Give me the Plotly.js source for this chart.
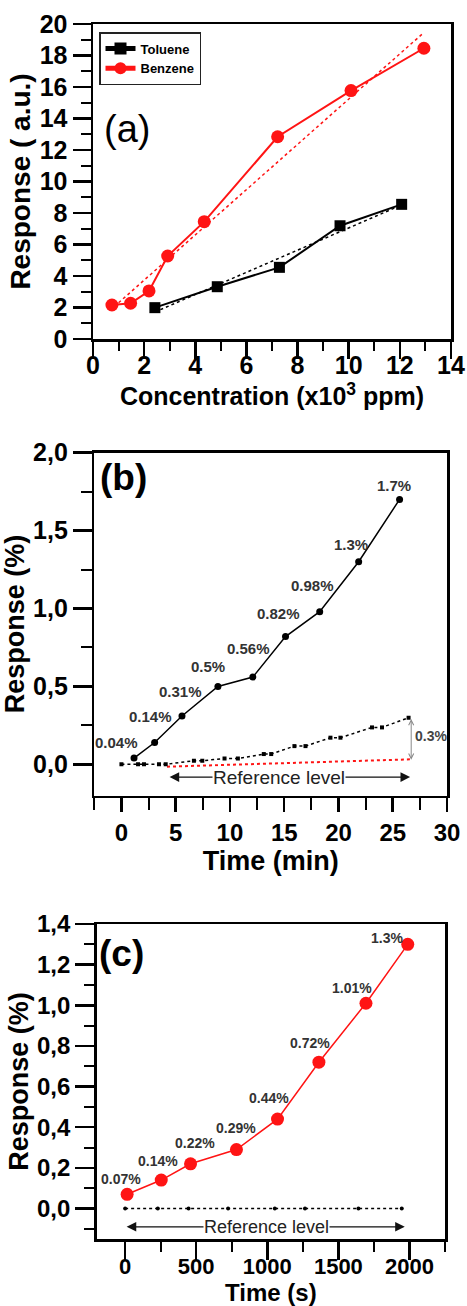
<!DOCTYPE html>
<html>
<head>
<meta charset="utf-8">
<script src="https://cdn.plot.ly/plotly-3.0.1.min.js"></script>
<style>
html,body{margin:0;padding:0;background:#fff;}
#chart{width:467px;height:1306px;}
</style>
</head>
<body>
<div id="chart"></div>
<script>
// ---------- Panel (a) data ----------
const tolueneConc = [2.42, 4.86, 7.29, 9.66, 12.07];
const tolueneResp = [1.99, 3.32, 4.55, 7.19, 8.55];
const benzeneConc = [0.74, 1.47, 2.19, 2.92, 4.35, 7.22, 10.09, 12.94];
const benzeneResp = [2.16, 2.27, 3.05, 5.27, 7.45, 12.84, 15.77, 18.46];
const tolueneFitConc = [2.42, 12.07];
const tolueneFitResp = [1.71, 8.51];
const benzeneFitConc = [1.0, 12.9];
const benzeneFitResp = [2.3, 19.4];

// ---------- Panel (b) data ----------
const bTime = [1.16, 3.06, 5.58, 8.89, 12.11, 15.12, 18.27, 21.86, 25.63];
const bResp = [0.04, 0.14, 0.31, 0.50, 0.56, 0.82, 0.98, 1.30, 1.70];
const bLabels = ['0.04%', '0.14%', '0.31%', '0.5%', '0.56%', '0.82%', '0.98%', '1.3%', '1.7%'];
const bDriftTime = [0, 1.53, 2.08, 3.46, 4.08, 6.68, 7.45, 9.5, 10.73, 13.12, 13.8, 15.94, 16.96, 19.26, 20.18, 23.09, 24.01, 26.46];
const bDriftResp = [0, 0, 0, 0, 0, 0.023, 0.023, 0.038, 0.038, 0.066, 0.066, 0.117, 0.117, 0.171, 0.171, 0.237, 0.237, 0.299];
const bBaseTime = [4.2, 26.6];
const bBaseResp = [-0.015, 0.032];
const bRefStart = 4.3, bRefEnd = 26.6, bRefLevel = -0.082;
const bDriftMark = {x: 26.7, low: 0.03, high: 0.3, text: '0.3%'};

// ---------- Panel (c) data ----------
const cTime = [14, 254, 460, 783, 1072, 1363, 1694, 1988];
const cResp = [0.07, 0.14, 0.22, 0.29, 0.44, 0.72, 1.01, 1.30];
const cLabels = ['0.07%', '0.14%', '0.22%', '0.29%', '0.44%', '0.72%', '1.01%', '1.3%'];
const cRefTime = [0, 230, 446, 724, 1053, 1265, 1641, 1946];
const cRefResp = [0, 0, 0, 0, 0, 0, 0, 0];
const cRefStart = 0, cRefEnd = 1967, cRefLevel = -0.09;

// ---------- styles ----------
const FONT = 'Liberation Sans, Arial, sans-serif';
const W = 467, H = 1306;
const px2x = (a, b) => [a / W, b / W];
const px2y = (top, bot) => [1 - bot / H, 1 - top / H];
const RED = '#ff1414';

// label offsets (pixels) - styling only
const bDX = [-18, -4, -1, -10, -4, -7, -7, -8, -6];
const bDY = [16, 26, 25, 20, 29, 23, 26, 17, 14];
const cDX = [-6, -3, 4, 0, -9, -9, -14, -21];
const cDY = [15, 19, 21, 22, 21, 19, 15, 6];

function axisBase(extra) {
  return Object.assign({
    showline: true, linecolor: '#000', linewidth: 2.5, mirror: true,
    ticks: 'outside', tickcolor: '#000', tickwidth: 2.5,
    showgrid: false, zeroline: false,
    tickfont: {family: FONT, size: 25, color: '#000', weight: 'bold'},
  }, extra);
}

const traces = [
  // (a)
  {x: tolueneFitConc, y: tolueneFitResp, xaxis: 'x', yaxis: 'y', mode: 'lines',
   line: {color: '#000', width: 1.5, dash: 'dot'}, showlegend: false, hoverinfo: 'skip'},
  {x: benzeneFitConc, y: benzeneFitResp, xaxis: 'x', yaxis: 'y', mode: 'lines',
   line: {color: RED, width: 1.5, dash: 'dot'}, showlegend: false, hoverinfo: 'skip'},
  {x: tolueneConc, y: tolueneResp, xaxis: 'x', yaxis: 'y', mode: 'lines+markers', name: 'Toluene',
   line: {color: '#000', width: 2}, marker: {symbol: 'square', size: 11, color: '#000'}},
  {x: benzeneConc, y: benzeneResp, xaxis: 'x', yaxis: 'y', mode: 'lines+markers', name: 'Benzene',
   line: {color: RED, width: 2}, marker: {symbol: 'circle', size: 13, color: RED}},
  // (b)
  {x: bBaseTime, y: bBaseResp, xaxis: 'x2', yaxis: 'y2', mode: 'lines',
   line: {color: RED, width: 2, dash: 'dot'}, showlegend: false},
  {x: bDriftTime, y: bDriftResp, xaxis: 'x2', yaxis: 'y2', mode: 'lines+markers',
   line: {color: '#000', width: 1.5, dash: 'dot'}, marker: {symbol: 'square', size: 4, color: '#000'}, showlegend: false},
  {x: bTime, y: bResp, xaxis: 'x2', yaxis: 'y2', mode: 'lines+markers',
   line: {color: '#000', width: 1.5}, marker: {symbol: 'circle', size: 7, color: '#000'}, showlegend: false},
  // (c)
  {x: cRefTime, y: cRefResp, xaxis: 'x3', yaxis: 'y3', mode: 'lines+markers',
   line: {color: '#000', width: 1.5, dash: 'dot'}, marker: {symbol: 'circle', size: 4, color: '#000'}, showlegend: false},
  {x: cTime, y: cResp, xaxis: 'x3', yaxis: 'y3', mode: 'lines+markers',
   line: {color: RED, width: 1.5}, marker: {symbol: 'circle', size: 13, color: RED}, showlegend: false},
];

const annotations = [];
// panel letters
annotations.push({xref: 'paper', yref: 'paper', x: 127 / W, y: 1 - 129 / H, xanchor: 'center', yanchor: 'middle',
  text: '(a)', showarrow: false, font: {family: FONT, size: 38, color: '#000'}});
annotations.push({xref: 'paper', yref: 'paper', x: 123 / W, y: 1 - 478 / H, xanchor: 'center', yanchor: 'middle',
  text: '(b)', showarrow: false, font: {family: FONT, size: 37, color: '#000', weight: 'bold'}});
annotations.push({xref: 'paper', yref: 'paper', x: 122 / W, y: 1 - 953 / H, xanchor: 'center', yanchor: 'middle',
  text: '(c)', showarrow: false, font: {family: FONT, size: 37, color: '#000', weight: 'bold'}});

// data labels
bTime.forEach((t, i) => annotations.push({xref: 'x2', yref: 'y2', x: t, y: bResp[i], text: bLabels[i],
  showarrow: false, xshift: bDX[i], yshift: bDY[i], font: {family: FONT, size: 15, color: '#333', weight: 'bold'}}));
cTime.forEach((t, i) => annotations.push({xref: 'x3', yref: 'y3', x: t, y: cResp[i], text: cLabels[i],
  showarrow: false, xshift: cDX[i], yshift: cDY[i], font: {family: FONT, size: 14, color: '#333', weight: 'bold'}}));

// reference level arrows
annotations.push({xref: 'x2', yref: 'y2', axref: 'x2', ayref: 'y2', x: bRefEnd, y: bRefLevel, ax: bRefStart, ay: bRefLevel,
  text: '', showarrow: true, arrowside: 'end+start', arrowhead: 2, arrowsize: 1.6, arrowwidth: 1.2, arrowcolor: '#111'});
annotations.push({xref: 'x2', yref: 'y2', x: (bRefStart + bRefEnd) / 2 - 0.9, y: bRefLevel, text: 'Reference level', showarrow: false,
  bgcolor: '#fff', borderpad: 0, font: {family: FONT, size: 19, color: '#222'}});
annotations.push({xref: 'x2', yref: 'y2', axref: 'x2', ayref: 'y2', x: bDriftMark.x, y: bDriftMark.low, ax: bDriftMark.x, ay: bDriftMark.high,
  text: '', showarrow: true, arrowside: 'end+start', arrowhead: 5, arrowsize: 1, arrowwidth: 1, arrowcolor: '#888'});
annotations.push({xref: 'x2', yref: 'y2', x: bDriftMark.x, y: (bDriftMark.low + bDriftMark.high) / 2 + 0.02, text: bDriftMark.text,
  showarrow: false, xanchor: 'left', xshift: 2, font: {family: FONT, size: 14, color: '#444', weight: 'bold'}});

annotations.push({xref: 'x3', yref: 'y3', axref: 'x3', ayref: 'y3', x: cRefEnd, y: cRefLevel, ax: cRefStart, ay: cRefLevel,
  text: '', showarrow: true, arrowside: 'end+start', arrowhead: 2, arrowsize: 1.6, arrowwidth: 1.2, arrowcolor: '#111'});
annotations.push({xref: 'x3', yref: 'y3', x: 994, y: cRefLevel, text: 'Reference level', showarrow: false,
  bgcolor: '#fff', borderpad: 0, font: {family: FONT, size: 18, color: '#222'}});

const layout = {
  width: W, height: H,
  margin: {l: 0, r: 0, t: 0, b: 0},
  paper_bgcolor: '#fff', plot_bgcolor: '#fff',
  separators: ',.',
  font: {family: FONT, color: '#000'},
  showlegend: true,
  legend: {x: 99 / W, y: 1 - 32 / H, xanchor: 'left', yanchor: 'top', bordercolor: '#222', borderwidth: 1.5,
    bgcolor: '#fff', itemsizing: 'constant', tracegroupgap: 0,
    font: {family: FONT, size: 13, color: '#000', weight: 'bold'}},
  xaxis: axisBase({domain: px2x(93, 451), anchor: 'y', range: [0, 14], dtick: 2, tick0: 0, ticklen: 17,
    minor: {dtick: 1, ticklen: 9, tickwidth: 2, tickcolor: '#000', ticks: 'outside'},
    ticklabelstandoff: -15,
    title: {text: 'Concentration (x10<sup>3</sup> ppm)', standoff: 8, font: {family: FONT, size: 25, color: '#000', weight: 'bold'}}}),
  yaxis: axisBase({domain: px2y(24, 339), anchor: 'x', range: [0, 20], dtick: 2, tick0: 0, ticklen: 18,
    minor: {dtick: 1, ticklen: 10, tickwidth: 2, tickcolor: '#000', ticks: 'outside'},
    title: {text: 'Response ( a.u.)', standoff: 1, font: {family: FONT, size: 28, color: '#000', weight: 'bold'}}}),
  xaxis2: axisBase({domain: px2x(94.3, 447), anchor: 'y2', range: [-2.5, 30], dtick: 5, tick0: 0, ticklen: 14,
    minor: {dtick: 2.5, ticklen: 12, tickwidth: 2, tickcolor: '#000', ticks: 'outside'},
    tickfont: {family: FONT, size: 24, color: '#000', weight: 'bold'},
    title: {text: 'Time (min)', standoff: 4, font: {family: FONT, size: 27, color: '#000', weight: 'bold'}}}),
  yaxis2: axisBase({domain: px2y(452.7, 795.5), anchor: 'x2', range: [-0.2, 2.0], dtick: 0.5, tick0: 0, ticklen: 19,
    tickformat: '.1f',
    minor: {dtick: 0.25, ticklen: 11, tickwidth: 2, tickcolor: '#000', ticks: 'outside'},
    tickfont: {family: FONT, size: 25, color: '#000', weight: 'bold'},
    title: {text: 'Response (%)', standoff: 3, font: {family: FONT, size: 27, color: '#000', weight: 'bold'}}}),
  xaxis3: axisBase({domain: px2x(96.7, 445), anchor: 'y3', range: [-200, 2250], dtick: 500, tick0: 0, ticklen: 18,
    minor: {dtick: 250, ticklen: 10, tickwidth: 2, tickcolor: '#000', ticks: 'outside'},
    ticklabelstandoff: -12,
    tickfont: {family: FONT, size: 22, color: '#000', weight: 'bold'},
    title: {text: 'Time (s)', standoff: 2, font: {family: FONT, size: 24, color: '#000', weight: 'bold'}}}),
  yaxis3: axisBase({domain: px2y(924, 1239), anchor: 'x3', range: [-0.15, 1.4], dtick: 0.2, tick0: 0, ticklen: 19,
    tickformat: '.1f',
    minor: {dtick: 0.1, ticklen: 10, tickwidth: 2, tickcolor: '#000', ticks: 'outside'},
    tickfont: {family: FONT, size: 24, color: '#000', weight: 'bold'},
    title: {text: 'Response (%)', standoff: 1, font: {family: FONT, size: 27, color: '#000', weight: 'bold'}}}),
  annotations: annotations,
};

Plotly.newPlot('chart', traces, layout, {displayModeBar: false, staticPlot: true});
</script>
</body>
</html>
